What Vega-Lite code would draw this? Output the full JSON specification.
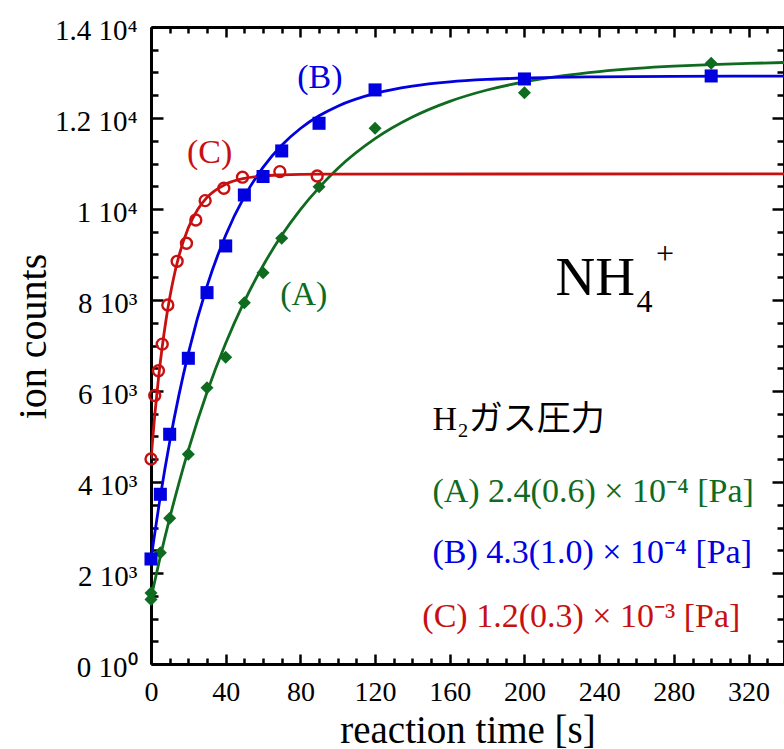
{
  "$schema": "https://vega.github.io/schema/vega-lite/v6.json",
  "width": 633,
  "height": 637,
  "autosize": {"type": "none"},
  "padding": {"left": 151, "top": 27, "right": 0, "bottom": 85},
  "background": "white",
  "config": {
    "view": {"stroke": null},
    "axis": {"grid": false, "domainColor": "black", "tickColor": "black", "labelFont": "Liberation Serif", "titleFont": "Liberation Serif", "labelColor": "black", "titleColor": "black", "titleFontWeight": "normal", "labelFlush": false, "labelOverlap": false}
  },
  "datasets": {
    "curves": [
      {"series": "A", "t": 0, "counts": 1450}, {"series": "A", "t": 5, "counts": 2363}, {"series": "A", "t": 10, "counts": 3205}, {"series": "A", "t": 15, "counts": 3983}, {"series": "A", "t": 20, "counts": 4701}, {"series": "A", "t": 30, "counts": 5974}, {"series": "A", "t": 40, "counts": 7050}, {"series": "A", "t": 50, "counts": 7970}, {"series": "A", "t": 60, "counts": 8754}, {"series": "A", "t": 70, "counts": 9422}, {"series": "A", "t": 80, "counts": 9988}, {"series": "A", "t": 90, "counts": 10471}, {"series": "A", "t": 100, "counts": 10890}, {"series": "A", "t": 120, "counts": 11545}, {"series": "A", "t": 140, "counts": 12020}, {"series": "A", "t": 160, "counts": 12365}, {"series": "A", "t": 180, "counts": 12615}, {"series": "A", "t": 200, "counts": 12795}, {"series": "A", "t": 220, "counts": 12925}, {"series": "A", "t": 240, "counts": 13020}, {"series": "A", "t": 260, "counts": 13090}, {"series": "A", "t": 280, "counts": 13140}, {"series": "A", "t": 300, "counts": 13175}, {"series": "A", "t": 320, "counts": 13200}, {"series": "A", "t": 339, "counts": 13220},
      {"series": "B", "t": 0, "counts": 2300}, {"series": "B", "t": 5, "counts": 3679}, {"series": "B", "t": 10, "counts": 4878}, {"series": "B", "t": 15, "counts": 5920}, {"series": "B", "t": 20, "counts": 6828}, {"series": "B", "t": 30, "counts": 8305}, {"series": "B", "t": 40, "counts": 9424}, {"series": "B", "t": 50, "counts": 10271}, {"series": "B", "t": 60, "counts": 10914}, {"series": "B", "t": 70, "counts": 11400}, {"series": "B", "t": 80, "counts": 11769}, {"series": "B", "t": 90, "counts": 12048}, {"series": "B", "t": 100, "counts": 12260}, {"series": "B", "t": 120, "counts": 12541}, {"series": "B", "t": 140, "counts": 12702}, {"series": "B", "t": 160, "counts": 12795}, {"series": "B", "t": 180, "counts": 12848}, {"series": "B", "t": 200, "counts": 12879}, {"series": "B", "t": 240, "counts": 12906}, {"series": "B", "t": 280, "counts": 12915}, {"series": "B", "t": 339, "counts": 12920},
      {"series": "C", "t": 0, "counts": 4500}, {"series": "C", "t": 2, "counts": 5462}, {"series": "C", "t": 4, "counts": 6277}, {"series": "C", "t": 6, "counts": 6967}, {"series": "C", "t": 8, "counts": 7551}, {"series": "C", "t": 10, "counts": 8045}, {"series": "C", "t": 12, "counts": 8463}, {"series": "C", "t": 15, "counts": 8974}, {"series": "C", "t": 20, "counts": 9586}, {"series": "C", "t": 25, "counts": 9989}, {"series": "C", "t": 30, "counts": 10255}, {"series": "C", "t": 40, "counts": 10546}, {"series": "C", "t": 50, "counts": 10673}, {"series": "C", "t": 60, "counts": 10728}, {"series": "C", "t": 70, "counts": 10750}, {"series": "C", "t": 80, "counts": 10762}, {"series": "C", "t": 100, "counts": 10768}, {"series": "C", "t": 339, "counts": 10770}
    ],
    "points": [
      {"series": "A", "t": 0, "counts": 1560}, {"series": "A", "t": 0, "counts": 1420}, {"series": "A", "t": 5, "counts": 2446}, {"series": "A", "t": 10, "counts": 3202}, {"series": "A", "t": 20, "counts": 4609}, {"series": "A", "t": 30, "counts": 6073}, {"series": "A", "t": 40, "counts": 6743}, {"series": "A", "t": 50, "counts": 7941}, {"series": "A", "t": 60, "counts": 8601}, {"series": "A", "t": 70, "counts": 9357}, {"series": "A", "t": 90, "counts": 10491}, {"series": "A", "t": 120, "counts": 11775}, {"series": "A", "t": 200, "counts": 12557}, {"series": "A", "t": 300, "counts": 13203},
      {"series": "B", "t": 0, "counts": 2308}, {"series": "B", "t": 5, "counts": 3730}, {"series": "B", "t": 10, "counts": 5049}, {"series": "B", "t": 20, "counts": 6719}, {"series": "B", "t": 30, "counts": 8162}, {"series": "B", "t": 40, "counts": 9188}, {"series": "B", "t": 50, "counts": 10308}, {"series": "B", "t": 60, "counts": 10714}, {"series": "B", "t": 70, "counts": 11276}, {"series": "B", "t": 90, "counts": 11884}, {"series": "B", "t": 120, "counts": 12617}, {"series": "B", "t": 200, "counts": 12858}, {"series": "B", "t": 300, "counts": 12924},
      {"series": "C", "t": 0, "counts": 4506}, {"series": "C", "t": 2, "counts": 5900}, {"series": "C", "t": 4, "counts": 6447}, {"series": "C", "t": 6, "counts": 7030}, {"series": "C", "t": 9, "counts": 7891}, {"series": "C", "t": 14, "counts": 8850}, {"series": "C", "t": 19, "counts": 9247}, {"series": "C", "t": 24, "counts": 9759}, {"series": "C", "t": 29, "counts": 10184}, {"series": "C", "t": 39, "counts": 10457}, {"series": "C", "t": 49, "counts": 10699}, {"series": "C", "t": 69, "counts": 10822}, {"series": "C", "t": 89, "counts": 10726}
    ],
    "labels": [
      {"series": "A", "t": 69.2, "counts": 7891, "label": "(A)"},
      {"series": "B", "t": 78.3, "counts": 12660, "label": "(B)"},
      {"series": "C", "t": 19.3, "counts": 11012, "label": "(C)"},
      {"series": "A", "t": 150.7, "counts": 3561, "label": "(A) 2.4(0.6) × 10⁻⁴ [Pa]"},
      {"series": "B", "t": 150.7, "counts": 2220, "label": "(B) 4.3(1.0) × 10⁻⁴ [Pa]"},
      {"series": "C", "t": 145.3, "counts": 813, "label": "(C) 1.2(0.3) × 10⁻³ [Pa]"}
    ],
    "heading": [{"t": 150.7, "counts": 5143, "label": "H₂ガス圧力"}],
    "chem": [{"t": 216.6, "counts": 8111, "label": "NH"}],
    "chemsub": [{"t": 260.0, "counts": 7737, "label": "4"}, {"t": 270.5, "counts": 8792, "label": "+"}]
  },
  "resolve": {"axis": {"x": "independent", "y": "independent"}},
  "layer": [
    {
      "data": {"name": "curves"},
      "mark": {"type": "line", "strokeWidth": 2.8, "interpolate": "monotone", "clip": true},
      "encoding": {
        "x": {"field": "t", "type": "quantitative", "scale": {"domain": [0, 339], "nice": false, "zero": false},
          "axis": {"orient": "bottom", "values": [0, 40, 80, 120, 160, 200, 240, 280, 320], "ticks": false, "domainWidth": 3, "labelFontSize": 28, "labelPadding": 36, "labelBaseline": "alphabetic", "title": "reaction time [s]", "titleFontSize": 39, "titleX": 316.5, "titleY": 78, "titleBaseline": "alphabetic", "titleAlign": "center"}},
        "y": {"field": "counts", "type": "quantitative", "scale": {"domain": [0, 14000], "nice": false, "zero": false},
          "axis": {"orient": "left", "values": [0, 2000, 4000, 6000, 8000, 10000, 12000, 14000], "ticks": false, "domainWidth": 3, "labelFontSize": 29, "labelPadding": 14, "labelBaseline": "alphabetic", "labelOffset": 12,
            "labelExpr": "datum.value === 0 ? '0 10⁰' : datum.value >= 10000 ? (datum.value / 10000) + ' 10⁴' : (datum.value / 1000) + ' 10³'",
            "title": "ion counts", "titleFontSize": 40, "titleX": -106, "titleY": 309, "titleAngle": -90, "titleBaseline": "alphabetic", "titleAlign": "center"}},
        "color": {"field": "series", "type": "nominal", "scale": {"domain": ["A", "B", "C"], "range": ["#0f6b1f", "#0000e0", "#c81010"]}, "legend": null}
      }
    },
    {
      "data": {"name": "points"},
      "transform": [{"filter": "datum.series !== 'C'"}],
      "mark": {"type": "point", "filled": true, "size": 170, "opacity": 1},
      "encoding": {
        "x": {"field": "t", "type": "quantitative", "scale": {"domain": [0, 339], "nice": false, "zero": false},
          "axis": {"orient": "bottom", "values": [0, 40, 80, 120, 160, 200, 240, 280, 320], "labels": false, "domain": false, "tickSize": -10, "tickWidth": 2.5, "title": null}},
        "y": {"field": "counts", "type": "quantitative", "scale": {"domain": [0, 14000], "nice": false, "zero": false},
          "axis": {"orient": "left", "values": [0, 2000, 4000, 6000, 8000, 10000, 12000, 14000], "labels": false, "domain": false, "tickSize": -12, "tickWidth": 2.5, "title": null}},
        "color": {"field": "series", "type": "nominal", "legend": null},
        "shape": {"field": "series", "type": "nominal", "scale": {"domain": ["A", "B"], "range": ["diamond", "square"]}, "legend": null}
      }
    },
    {
      "data": {"name": "points"},
      "transform": [{"filter": "datum.series === 'C'"}],
      "mark": {"type": "point", "shape": "circle", "filled": false, "size": 120, "strokeWidth": 2.4, "opacity": 1},
      "encoding": {
        "x": {"field": "t", "type": "quantitative", "scale": {"domain": [0, 339], "nice": false, "zero": false},
          "axis": {"orient": "bottom", "values": [10, 20, 30, 50, 60, 70, 90, 100, 110, 130, 140, 150, 170, 180, 190, 210, 220, 230, 250, 260, 270, 290, 300, 310, 330], "labels": false, "domain": false, "tickSize": -6, "tickWidth": 2.5, "title": null}},
        "y": {"field": "counts", "type": "quantitative", "scale": {"domain": [0, 14000], "nice": false, "zero": false},
          "axis": {"orient": "left", "values": [500, 1000, 1500, 2500, 3000, 3500, 4500, 5000, 5500, 6500, 7000, 7500, 8500, 9000, 9500, 10500, 11000, 11500, 12500, 13000, 13500], "labels": false, "domain": false, "tickSize": -7, "tickWidth": 2.5, "title": null}},
        "color": {"field": "series", "type": "nominal", "legend": null}
      }
    },
    {
      "data": {"name": "labels"},
      "mark": {"type": "text", "font": "Liberation Serif", "fontSize": 34, "align": "left", "baseline": "alphabetic"},
      "encoding": {
        "x": {"field": "t", "type": "quantitative", "scale": {"domain": [0, 339], "nice": false, "zero": false},
          "axis": {"orient": "top", "values": [0, 40, 80, 120, 160, 200, 240, 280, 320], "labels": false, "domain": true, "domainWidth": 3, "tickSize": -10, "tickWidth": 2.5, "title": null}},
        "y": {"field": "counts", "type": "quantitative", "scale": {"domain": [0, 14000], "nice": false, "zero": false},
          "axis": {"orient": "right", "values": [0, 2000, 4000, 6000, 8000, 10000, 12000, 14000], "labels": false, "domain": true, "domainWidth": 3, "tickSize": -12, "tickWidth": 2.5, "title": null}},
        "text": {"field": "label"},
        "color": {"field": "series", "type": "nominal", "legend": null}
      }
    },
    {
      "data": {"name": "heading"},
      "mark": {"type": "text", "font": "Liberation Serif, Noto Sans CJK JP", "fontSize": 34, "align": "left", "baseline": "alphabetic", "color": "black"},
      "encoding": {
        "x": {"field": "t", "type": "quantitative", "scale": {"domain": [0, 339], "nice": false, "zero": false},
          "axis": {"orient": "top", "values": [10, 20, 30, 50, 60, 70, 90, 100, 110, 130, 140, 150, 170, 180, 190, 210, 220, 230, 250, 260, 270, 290, 300, 310, 330], "labels": false, "domain": false, "tickSize": -6, "tickWidth": 2.5, "title": null}},
        "y": {"field": "counts", "type": "quantitative", "scale": {"domain": [0, 14000], "nice": false, "zero": false},
          "axis": {"orient": "right", "values": [500, 1000, 1500, 2500, 3000, 3500, 4500, 5000, 5500, 6500, 7000, 7500, 8500, 9000, 9500, 10500, 11000, 11500, 12500, 13000, 13500], "labels": false, "domain": false, "tickSize": -7, "tickWidth": 2.5, "title": null}},
        "text": {"field": "label"}
      }
    },
    {
      "data": {"name": "chem"},
      "mark": {"type": "text", "font": "Liberation Serif", "fontSize": 55, "align": "left", "baseline": "alphabetic", "color": "black"},
      "encoding": {
        "x": {"field": "t", "type": "quantitative", "scale": {"domain": [0, 339], "nice": false, "zero": false}, "axis": null},
        "y": {"field": "counts", "type": "quantitative", "scale": {"domain": [0, 14000], "nice": false, "zero": false}, "axis": null},
        "text": {"field": "label"}
      }
    },
    {
      "data": {"name": "chemsub"},
      "mark": {"type": "text", "font": "Liberation Serif", "fontSize": 32, "align": "left", "baseline": "alphabetic", "color": "black"},
      "encoding": {
        "x": {"field": "t", "type": "quantitative", "scale": {"domain": [0, 339], "nice": false, "zero": false}, "axis": null},
        "y": {"field": "counts", "type": "quantitative", "scale": {"domain": [0, 14000], "nice": false, "zero": false}, "axis": null},
        "text": {"field": "label"}
      }
    }
  ]
}
